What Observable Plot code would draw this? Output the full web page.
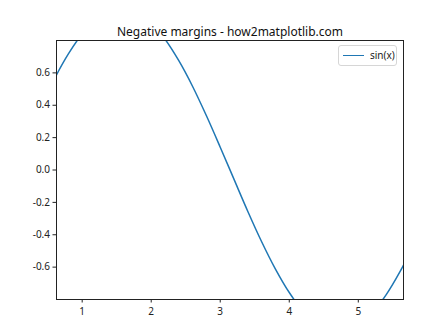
<!DOCTYPE html>
<html><head><meta charset="utf-8">
<script src="https://cdn.jsdelivr.net/npm/d3@7"></script>
<script src="https://cdn.jsdelivr.net/npm/@observablehq/plot@0.6"></script>
<style>
body{margin:0;background:#fff;}
#wrap{position:relative;width:448px;height:336px;font-family:"Noto Sans","DejaVu Sans",sans-serif;}
#legend{position:absolute;left:338px;top:45px;width:59px;height:21px;border:1px solid #d6d6d6;border-radius:3px;background:rgba(255,255,255,0.8);box-sizing:border-box;font-size:10px;color:#222;}
#legend .sw{position:absolute;left:4px;top:9px;width:21px;height:0;border-top:1.5px solid #1f77b4;}
#legend .lb{position:absolute;left:31px;top:2px;line-height:14px;}
</style></head>
<body><div id="wrap"></div>
<script>
const title = "Negative margins - how2matplotlib.com";
const seriesName = "sin(x)";
const xs = [0,0.2,0.4,0.6,0.8,1.0,1.2,1.4,1.6,1.8,2.0,2.2,2.4,2.6,2.8,3.0,3.2,3.4,3.6,3.8,4.0,4.2,4.4,4.6,4.8,5.0,5.2,5.4,5.6,5.8,6.0,6.2,6.283];
const ys = [0,0.199,0.389,0.565,0.717,0.841,0.932,0.985,0.9996,0.974,0.909,0.808,0.675,0.516,0.335,0.141,-0.058,-0.256,-0.443,-0.612,-0.757,-0.872,-0.952,-0.994,-0.996,-0.959,-0.883,-0.773,-0.631,-0.465,-0.279,-0.083,0];
const xTicks = [1,2,3,4,5];
const yTicks = [-0.6,-0.4,-0.2,0.0,0.2,0.4,0.6];
const xDomain = [0.628, 5.655];
const yDomain = [-0.8, 0.8];

const data = xs.map((x,i)=>({x, y: ys[i]}));
const fmtY = v => v.toFixed(1);
const fmtX = v => String(v);

const chart = Plot.plot({
  width: 448, height: 336,
  marginLeft: 56, marginRight: 45, marginTop: 40, marginBottom: 37,
  style: {fontFamily: '"Noto Sans","DejaVu Sans",sans-serif', fontSize: "10px", color: "#222", background: "#fff"},
  x: {domain: xDomain, label: null},
  y: {domain: yDomain, label: null},
  marks: [
    Plot.line(data, {x: "x", y: "y", stroke: "#1f77b4", strokeWidth: 1.5, curve: "catmull-rom", clip: "frame"}),
    Plot.axisX({ticks: xTicks, tickSize: 3.5, tickPadding: 5, fontSize: 10, tickFormat: fmtX, stroke: "#222", label: null}),
    Plot.axisY({ticks: yTicks, tickSize: 3.5, tickPadding: 3, fontSize: 10, tickFormat: fmtY, stroke: "#222", label: null}),
    Plot.frame({stroke: "#222", strokeWidth: 1}),
    Plot.text([title], {frameAnchor: "top", dy: -13, fontSize: 12, fill: "#111"})
  ]
});
const wrap = document.getElementById("wrap");
wrap.appendChild(chart);
const lg = document.createElement("div");
lg.id = "legend";
lg.innerHTML = '<div class="sw"></div><div class="lb"></div>';
lg.querySelector(".lb").textContent = seriesName;
wrap.appendChild(lg);
</script></body></html>
